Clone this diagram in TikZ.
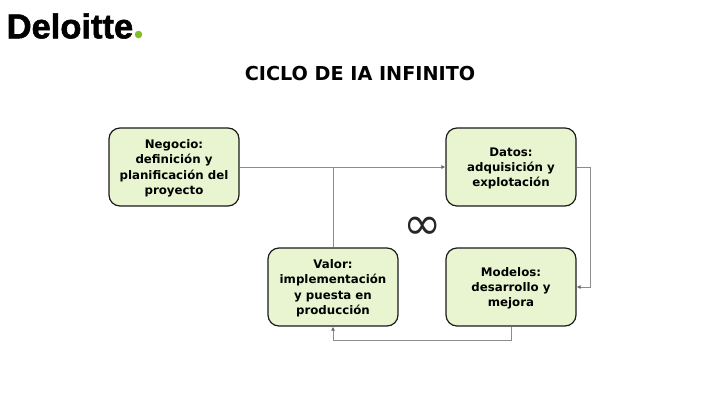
\documentclass[tikz,border=0pt]{standalone}
\usepackage{fontspec}
\setmainfont{DejaVu Sans}
\newfontfamily\logofont[FakeBold=1.6]{Liberation Sans Bold}
\usetikzlibrary{arrows.meta,calc}
\definecolor{boxfill}{HTML}{E8F5D0}
\definecolor{boxline}{HTML}{1A1A1A}
\definecolor{linkgray}{HTML}{8C8C8C}
\definecolor{logogreen}{HTML}{86BC25}
\newcommand{\downstrut}{\rule{0pt}{11.4pt}}
\tikzset{
  card/.style={draw=boxline,line width=1.2pt,fill=boxfill,rounded corners=11pt,minimum width=130pt,minimum height=78pt,
    align=center,inner sep=0pt,font=\bfseries\fontsize{11.8}{15.2}\selectfont,text=black},
  link/.style={draw=linkgray,line width=0.9pt,-{Latex[length=4pt,width=4pt,color=black!60]}},
  plainlink/.style={draw=linkgray,line width=0.9pt}
}
\begin{document}
\begin{tikzpicture}[x=1pt,y=-1pt]
\useasboundingbox (0,0) rectangle (720,405);
\node[anchor=west,inner sep=0pt,font=\logofont\fontsize{34.5}{34.5}\selectfont,text=black] (logo) at (6.5,26) {Deloitte};
\node[circle,fill=logogreen,inner sep=0pt,minimum size=7.5pt] (dot) at (138.5,34.5) {};
\node[inner sep=0pt,font=\bfseries\fontsize{19.2}{22}\selectfont,text=black] (title) at (360,73.5) {CICLO DE IA INFINITO};
\node[card] (neg) at (174,167) {\downstrut Negocio:\\definición y\\planificación del\\proyecto};
\node[card] (dat) at (511,167) {\downstrut Datos:\\adquisición y\\explotación};
\node[card] (val) at (333,287) {\downstrut Valor:\\implementación\\y puesta en\\producción};
\node[card] (mod) at (511,287) {\downstrut Modelos:\\desarrollo y\\mejora};
\node[inner sep=0pt,font=\fontsize{46}{46}\selectfont,text=black!85] (inf) at (422.5,228) {∞};
\coordinate (join) at (val.north |- neg.east);
\draw[link] (neg.east) -- (dat.west);
\draw[plainlink] (val.north) -- (join);
\draw[link] (dat.east) -- ++(14,0) |- (mod.east);
\draw[link] (mod.south) -- ++(0,14) -| (val.south);
\end{tikzpicture}
\end{document}
